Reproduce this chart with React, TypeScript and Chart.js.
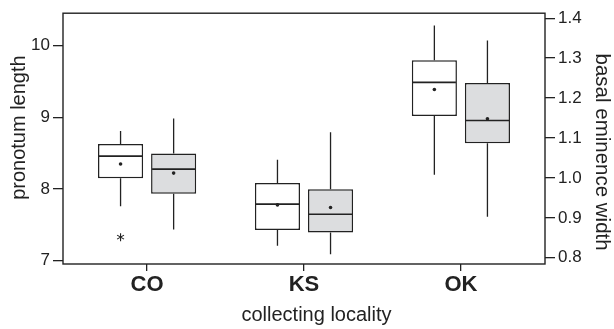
import React, { useEffect, useRef } from 'react';
import { Chart, registerables } from 'chart.js';

Chart.register(...registerables);

const categories = ['CO', 'KS', 'OK'];

// pronotum length (left axis, white boxes)
const pronotumWhiskerLow = [7.76, 7.21, 8.2];
const pronotumQ1 = [8.15, 7.43, 9.02];
const pronotumMedian = [8.46, 7.79, 9.49];
const pronotumQ3 = [8.63, 8.085, 9.8];
const pronotumWhiskerHigh = [8.81, 8.41, 10.285];
const pronotumMean = [8.35, 7.78, 9.39];
const pronotumOutliers = [[7.33], [], []];

// basal eminence width (right axis, gray boxes)
const basalWhiskerLow = [0.871, 0.809, 0.903];
const basalQ1 = [0.96, 0.8635, 1.087];
const basalMedian = [1.022, 0.909, 1.1436];
const basalQ3 = [1.061, 0.9716, 1.2376];
const basalWhiskerHigh = [1.149, 1.114, 1.344];
const basalMean = [1.012, 0.926, 1.148];
const basalOutliers = [[], [], []];

const leftTicks = [7, 8, 9, 10];
const rightTicks = [0.8, 0.9, 1.0, 1.1, 1.2, 1.3, 1.4];
const leftRange = [6.955, 10.455];
const rightRange = [0.7844, 1.4124];
const xRange = [-0.536, 2.536];

const xTitle = 'collecting locality';
const leftTitle = 'pronotum length';
const rightTitle = 'basal eminence width';

const FONT = '"Liberation Sans", Arial, Helvetica, sans-serif';
const INK = '#222222';

const series = [
  { low: pronotumWhiskerLow, q1: pronotumQ1, med: pronotumMedian, q3: pronotumQ3, high: pronotumWhiskerHigh, mean: pronotumMean, out: pronotumOutliers, axis: 'y' },
  { low: basalWhiskerLow, q1: basalQ1, med: basalMedian, q3: basalQ3, high: basalWhiskerHigh, mean: basalMean, out: basalOutliers, axis: 'y1' },
];

const boxPlotPlugin = {
  id: 'boxExtras',
  afterDatasetsDraw(chart: any) {
    const ctx = chart.ctx;
    ctx.save();
    ctx.strokeStyle = INK;
    ctx.fillStyle = INK;
    series.forEach((s, d) => {
      const meta = chart.getDatasetMeta(d);
      const scale = chart.scales[s.axis];
      meta.data.forEach((el: any, i: number) => {
        const x = el.x;
        const half = el.width / 2;
        ctx.lineWidth = 1.3;
        ctx.beginPath();
        ctx.moveTo(x, scale.getPixelForValue(s.q3[i]));
        ctx.lineTo(x, scale.getPixelForValue(s.high[i]));
        ctx.moveTo(x, scale.getPixelForValue(s.q1[i]));
        ctx.lineTo(x, scale.getPixelForValue(s.low[i]));
        ctx.stroke();
        ctx.lineWidth = 1.6;
        ctx.beginPath();
        const my = scale.getPixelForValue(s.med[i]);
        ctx.moveTo(x - half + 1, my);
        ctx.lineTo(x + half - 1, my);
        ctx.stroke();
        ctx.beginPath();
        ctx.arc(x, scale.getPixelForValue(s.mean[i]), 1.8, 0, Math.PI * 2);
        ctx.fill();
        s.out[i].forEach((v: number) => {
          const oy = scale.getPixelForValue(v);
          const r = 4;
          ctx.lineWidth = 1.1;
          ctx.beginPath();
          for (let k = 0; k < 3; k++) {
            const a = Math.PI / 2 + (k * Math.PI) / 3;
            ctx.moveTo(x - r * Math.cos(a), oy - r * Math.sin(a));
            ctx.lineTo(x + r * Math.cos(a), oy + r * Math.sin(a));
          }
          ctx.stroke();
        });
      });
    });
    const a = chart.chartArea;
    ctx.lineWidth = 1.4;
    ctx.strokeStyle = INK;
    ctx.strokeRect(a.left, a.top, a.right - a.left, a.bottom - a.top);

    // axis titles
    const midX = (a.left + a.right) / 2;
    const midY = (a.top + a.bottom) / 2;
    ctx.fillStyle = INK;
    ctx.textAlign = 'center';
    ctx.textBaseline = 'middle';
    ctx.font = `20px ${FONT}`;
    ctx.fillText(xTitle, midX + 12.5, a.bottom + 51);
    ctx.save();
    ctx.translate(a.left - 44, midY - 11);
    ctx.rotate(-Math.PI / 2);
    ctx.fillText(leftTitle, 0, 0);
    ctx.restore();
    ctx.save();
    ctx.font = `20.5px ${FONT}`;
    ctx.translate(a.right + 57, midY + 13.5);
    ctx.rotate(Math.PI / 2);
    ctx.fillText(rightTitle, 0, 0);
    ctx.restore();
    ctx.restore();
  },
};

export default function App() {
  const canvasRef = useRef<HTMLCanvasElement | null>(null);

  useEffect(() => {
    if (!canvasRef.current) return;
    const chart = new Chart(canvasRef.current, {
      type: 'bar',
      data: {
        datasets: [
          {
            label: leftTitle,
            data: categories.map((_, i) => ({ x: i, y: [pronotumQ1[i], pronotumQ3[i]] })) as any,
            yAxisID: 'y',
            backgroundColor: '#ffffff',
            borderColor: INK,
            borderWidth: 1.5,
            borderSkipped: false,
            categoryPercentage: 0.6765,
            barPercentage: 0.85,
          },
          {
            label: rightTitle,
            data: categories.map((_, i) => ({ x: i, y: [basalQ1[i], basalQ3[i]] })) as any,
            yAxisID: 'y1',
            backgroundColor: '#dcdddf',
            borderColor: INK,
            borderWidth: 1.5,
            borderSkipped: false,
            categoryPercentage: 0.6765,
            barPercentage: 0.85,
          },
        ],
      },
      options: {
        animation: false,
        responsive: true,
        maintainAspectRatio: false,
        layout: { padding: { top: 10, left: 0, right: 0, bottom: 0 } },
        plugins: { legend: { display: false }, tooltip: { enabled: false } },
        scales: {
          x: {
            type: 'linear',
            offset: false,
            min: xRange[0],
            max: xRange[1],
            afterBuildTicks: (scale: any) => {
              scale.ticks = categories.map((_, i) => ({ value: i }));
            },
            afterFit: (scale: any) => {
              scale.height = 65;
            },
            ticks: {
              autoSkip: false,
              maxRotation: 0,
              padding: 1,
              color: INK,
              font: { family: FONT, size: 22, weight: 'bold' },
              callback: (v: any) => categories[Math.round(Number(v))] ?? '',
            },
            grid: { display: true, offset: false, drawOnChartArea: false, drawTicks: true, tickLength: 7, color: INK, lineWidth: 1.3 },
            border: { display: false },
            title: { display: false },
          },
          y: {
            type: 'linear',
            position: 'left',
            min: leftRange[0],
            max: leftRange[1],
            afterBuildTicks: (scale: any) => {
              scale.ticks = leftTicks.map((v) => ({ value: v }));
            },
            afterFit: (scale: any) => {
              scale.width = 63;
            },
            ticks: {
              padding: 3,
              color: INK,
              font: { family: FONT, size: 17 },
              callback: (v: any) => String(v),
            },
            grid: { display: true, drawOnChartArea: false, drawTicks: true, tickLength: 10, color: INK, lineWidth: 1.3 },
            border: { display: false },
            title: { display: false },
          },
          y1: {
            type: 'linear',
            position: 'right',
            min: rightRange[0],
            max: rightRange[1],
            afterBuildTicks: (scale: any) => {
              scale.ticks = rightTicks.map((v) => ({ value: v }));
            },
            afterFit: (scale: any) => {
              scale.width = 69;
            },
            ticks: {
              padding: 3,
              color: INK,
              font: { family: FONT, size: 17 },
              callback: (v: any) => Number(v).toFixed(1),
            },
            grid: { display: true, drawOnChartArea: false, drawTicks: true, tickLength: 10, color: INK, lineWidth: 1.3 },
            border: { display: false },
            title: { display: false },
          },
        },
      } as any,
      plugins: [boxPlotPlugin],
    });
    return () => chart.destroy();
  }, []);

  return (
    <div style={{ position: 'fixed', left: 0, top: 0, width: 614, height: 329, background: '#fff' }}>
      <canvas ref={canvasRef} />
    </div>
  );
}
